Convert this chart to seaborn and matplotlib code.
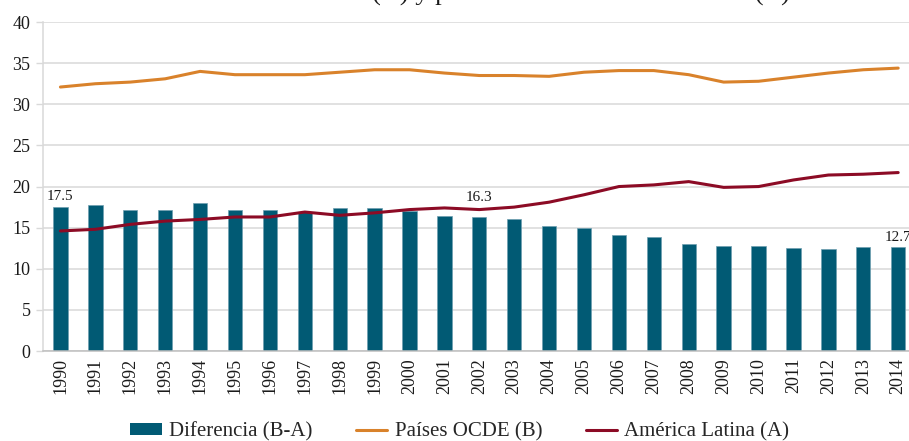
import numpy as np
import pandas as pd
import matplotlib
matplotlib.use('Agg')
import matplotlib.pyplot as plt
import seaborn as sns
from matplotlib.patches import Patch
from matplotlib.lines import Line2D

sns.set_theme(style='white')
plt.rcParams['font.family'] = ['Liberation Serif', 'DejaVu Serif']

years = [str(y) for y in range(1990, 2015)]
ocde = [32.1, 32.5, 32.7, 33.1, 34.0, 33.6, 33.6, 33.6, 33.9, 34.2, 34.2, 33.8, 33.5,
        33.5, 33.4, 33.9, 34.1, 34.1, 33.6, 32.7, 32.8, 33.3, 33.8, 34.2, 34.4]
america_latina = [14.6, 14.8, 15.4, 15.8, 16.0, 16.3, 16.3, 16.9, 16.5, 16.8, 17.2, 17.4, 17.2,
                  17.5, 18.1, 19.0, 20.0, 20.2, 20.6, 19.9, 20.0, 20.8, 21.4, 21.5, 21.7]
diferencia = [17.5, 17.7, 17.2, 17.2, 18.0, 17.2, 17.2, 16.9, 17.4, 17.4, 17.0, 16.4, 16.3,
              16.0, 15.2, 14.9, 14.1, 13.9, 13.0, 12.8, 12.8, 12.5, 12.4, 12.7, 12.7]
labeled_years = ['1990', '2002', '2014']
# label offsets above the bar, in points (2002 sits above the red line)
label_offset = {'1990': 3, '2002': 9, '2014': 2}

c_bar = '#015a74'
c_ocde = '#d9822b'
c_al = '#8c0b25'

df = pd.DataFrame({'Año': years, 'OCDE': ocde, 'AL': america_latina, 'Dif': diferencia})

fig = plt.figure(figsize=(9.09, 4.41), dpi=100)
ax = fig.add_axes([0.0473, 0.204, 0.96, 0.746])

sns.barplot(data=df, x='Año', y='Dif', color=c_bar, width=0.41, saturation=1,
            edgecolor='#6f9fb0', linewidth=0.5, ax=ax, zorder=2)
sns.lineplot(data=df, x='Año', y='OCDE', color=c_ocde, lw=2.2, ax=ax, zorder=3)
sns.lineplot(data=df, x='Año', y='AL', color=c_al, lw=2.2, ax=ax, zorder=3)

for i, (yr, v) in enumerate(zip(years, diferencia)):
    if yr in labeled_years:
        ax.annotate(f'{v:.1f}', xy=(i, v), xytext=(0, label_offset[yr]), textcoords='offset points',
                    ha='center', va='bottom', fontsize=11, color='#1a1a1a')

ax.set_ylim(0, 40)
ax.set_xlim(-0.5, len(years) - 0.5)
ax.set_yticks(range(0, 41, 5))
ax.yaxis.grid(True, color='#d9d9d9', lw=1.1, zorder=0)
ax.set_axisbelow(True)
ax.set_xlabel('')
ax.set_ylabel('')

for s in ['top', 'right']:
    ax.spines[s].set_visible(False)
ax.spines['left'].set_color('#d9d9d9')
ax.spines['left'].set_linewidth(1.1)
ax.spines['bottom'].set_color('#bfbfbf')
ax.spines['bottom'].set_linewidth(1.1)

ax.set_xticks(np.arange(len(years)))
ax.set_xticklabels(years, rotation=90, fontsize=13)
ax.set_xticks(np.arange(len(years)) - 0.5, minor=True)
ax.tick_params(axis='x', which='major', length=0, pad=5)
ax.tick_params(axis='x', which='minor', length=5, color='#bfbfbf', width=1)
ax.tick_params(axis='y', length=5, color='#d9d9d9', width=1, labelsize=13, pad=4, left=True)
for lab in ax.get_yticklabels() + ax.get_xticklabels():
    lab.set_color('#1a1a1a')

handles = [Patch(facecolor=c_bar, edgecolor='none'),
           Line2D([0], [0], color=c_ocde, lw=2.2),
           Line2D([0], [0], color=c_al, lw=2.2)]
fig.legend(handles, ['Diferencia (B-A)', 'Países OCDE (B)', 'América Latina (A)'],
           loc='center', bbox_to_anchor=(460 / 909, 1 - 432 / 441), ncol=3, frameon=False,
           fontsize=15, handlelength=1.5, handleheight=0.5, handletextpad=0.35, columnspacing=2.1)

# title sits mostly above the visible area, as in the cropped original
fig.text(790 / 909, 1 - 1 / 441, 'Presión fiscal en América Latina (A) y países miembros de la OCDE (B)',
         ha='right', va='baseline', fontsize=19, color='#1a1a1a')

fig.savefig('out.png', dpi=100)
